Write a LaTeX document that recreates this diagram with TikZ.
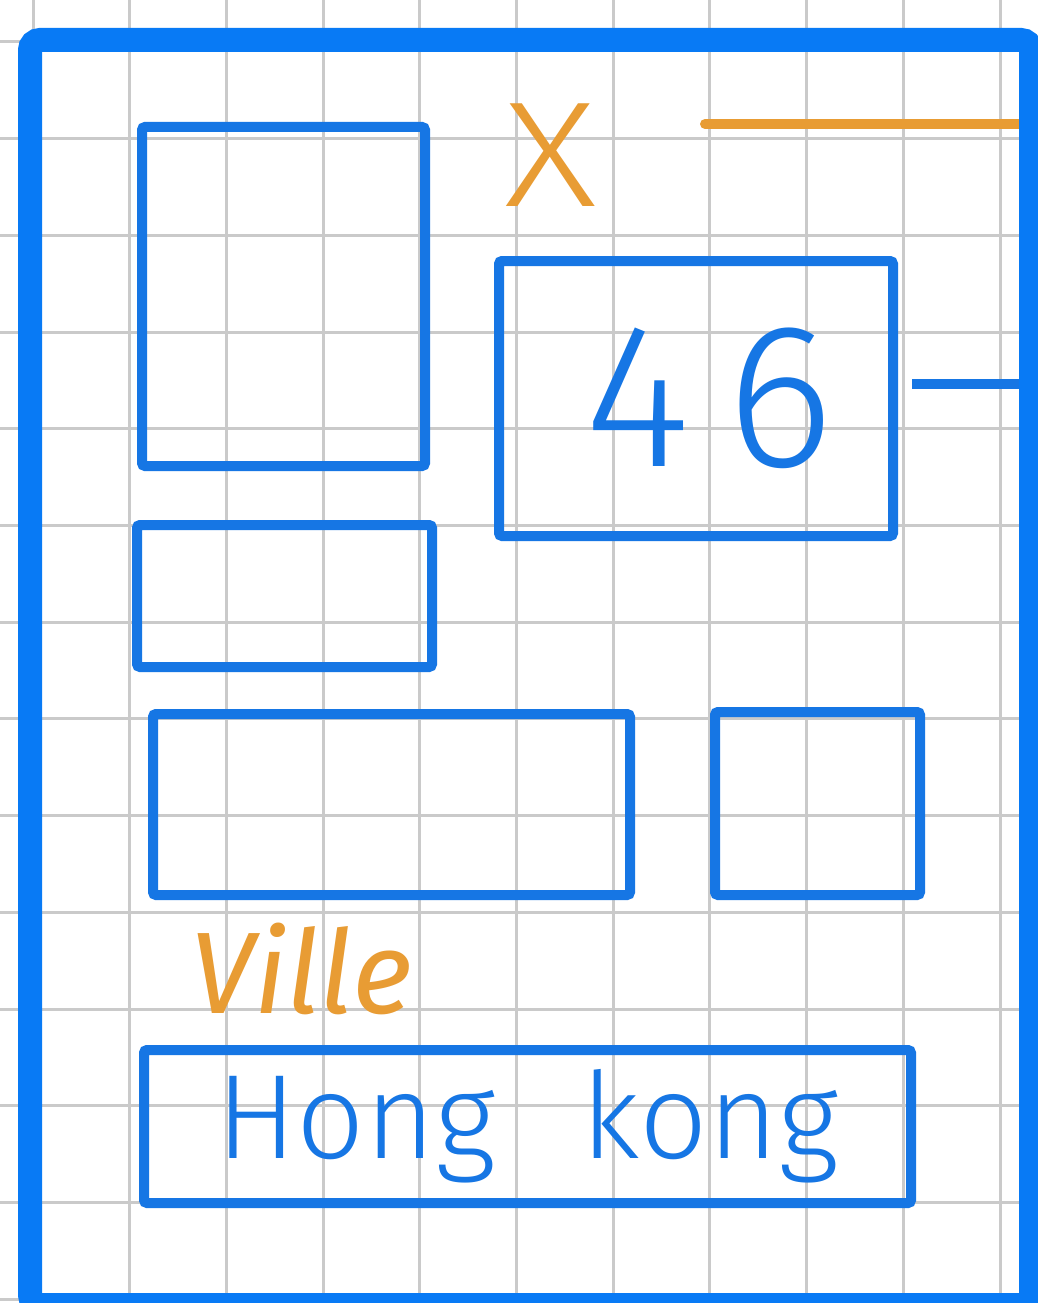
\documentclass[tikz,border=0pt]{standalone}
\usepackage{fontspec}
\setmainfont{Fira Sans}[UprightFont={* Light}, ItalicFont={* Italic}]
\definecolor{frameblue}{RGB}{8,122,245}
\definecolor{inkblue}{RGB}{22,118,228}
\definecolor{inkorange}{RGB}{232,156,52}
\definecolor{gridgray}{RGB}{202,202,202}
\begin{document}
\begin{tikzpicture}[x=1pt,y=-1pt,
  gridline/.style={draw=gridgray, line width=3pt},
  framebox/.style={draw=frameblue, line width=24pt, rounded corners=10pt, inner sep=0pt, minimum width=1001pt, minimum height=1265pt},
  inkbox/.style={draw=inkblue, line width=10pt, rounded corners=3pt, inner sep=0pt, text=inkblue},
  bluelink/.style={draw=inkblue, line width=10pt},
  orangelink/.style={draw=inkorange, line width=10pt, line cap=round},
  orangetext/.style={text=inkorange, inner sep=0pt}]
\useasboundingbox (0,0) rectangle (1037,1303);
\fill[white] (0,0) rectangle (1037,1303);
% grid paper
\foreach \i in {0,...,10} \draw[gridline] ({33+96.7*\i},0) -- ({33+96.7*\i},1303);
\foreach \i in {0,...,13} \draw[gridline] (0,{42+96.7*\i}) -- (1037,{42+96.7*\i});
% frame outline position (drawn later on top of the connector ends)
\path (530.5,672.5) node[framebox, draw=none] (frame) {};
% connectors
\coordinate (xl) at (705,124);
\draw[orangelink] (xl) -- (xl -| frame.east);
\coordinate (nl) at (912,384);
\draw[bluelink] (nl) -- (nl -| frame.east);
% frame
\node[framebox] at (frame.center) (frameline) {};
% boxes
\node[inkbox, minimum width=283pt, minimum height=339pt] (boxa) at (283.5,296.5) {};
\node[inkbox, minimum width=394pt, minimum height=275pt, font=\fontsize{205}{205}\selectfont] (num) at (696,398.5) {\hspace{26pt}4\hspace{36pt}6};
\node[inkbox, minimum width=295pt, minimum height=142pt] (boxb) at (284.5,596) {};
\node[inkbox, minimum width=477pt, minimum height=181pt] (boxc) at (391.5,804.5) {};
\node[inkbox, minimum width=205pt, minimum height=183pt] (boxd) at (817.5,803.5) {};
\node[inkbox, minimum width=767pt, minimum height=153pt, font=\fontsize{120}{120}\selectfont] (city) at (527.5,1126.5) {Hong\hspace{86pt}kong};
% orange labels
\node[orangetext, font=\fontsize{150}{150}\selectfont, xscale=1.2] (xlab) at (551,155) {X};
\node[orangetext, anchor=base west, font=\fontsize{116}{116}\selectfont\itshape] (ville) at (190,1013) {Ville};
\end{tikzpicture}
\end{document}
